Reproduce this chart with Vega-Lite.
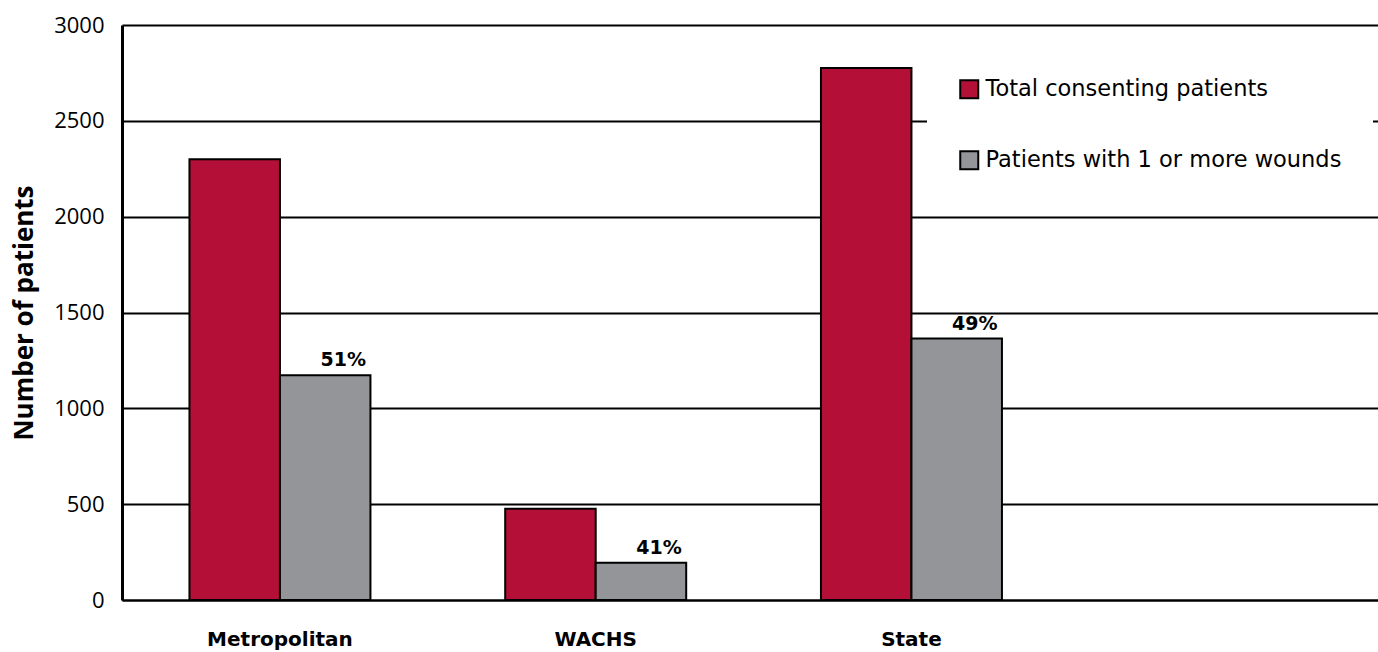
{
  "$schema": "https://vega.github.io/schema/vega-lite/v6.json",
  "width": 1256,
  "height": 575,
  "autosize": {"type": "none"},
  "padding": {"left": 122, "top": 25, "right": 0, "bottom": 52},
  "background": "white",
  "config": {"view": {"stroke": null}, "font": "Open Sans"},
  "data": {
    "values": [
      {"region": "Metropolitan", "series": "Total consenting patients", "count": 2300},
      {"region": "Metropolitan", "series": "Patients with 1 or more wounds", "count": 1173, "pct": "51%"},
      {"region": "WACHS", "series": "Total consenting patients", "count": 476},
      {"region": "WACHS", "series": "Patients with 1 or more wounds", "count": 195, "pct": "41%"},
      {"region": "State", "series": "Total consenting patients", "count": 2776},
      {"region": "State", "series": "Patients with 1 or more wounds", "count": 1364, "pct": "49%"}
    ]
  },
  "encoding": {
    "x": {
      "field": "region",
      "type": "nominal",
      "sort": null,
      "scale": {"domain": ["Metropolitan", "WACHS", "State", ""], "paddingInner": 0.4268, "paddingOuter": 0.2023, "align": 0.528},
      "axis": {
        "title": null,
        "labelAngle": 0,
        "ticks": false,
        "grid": false,
        "domainColor": "black",
        "domainWidth": 2,
        "labelFont": "DejaVu Sans",
        "labelFontWeight": "bold",
        "labelFontSize": 20,
        "labelColor": "black",
        "labelPadding": 29
      }
    },
    "xOffset": {
      "field": "series",
      "type": "nominal",
      "scale": {"domain": ["Total consenting patients", "Patients with 1 or more wounds"], "paddingInner": 0, "paddingOuter": 0}
    },
    "y": {
      "field": "count",
      "type": "quantitative",
      "scale": {"domain": [0, 3000], "nice": false},
      "axis": {
        "title": "Number of patients",
        "titleFont": "Open Sans",
        "titleFontWeight": "bold",
        "titleFontSize": 26,
        "titleColor": "black",
        "titlePadding": 16,
        "values": [0, 500, 1000, 1500, 2000, 2500, 3000],
        "format": "d",
        "ticks": false,
        "grid": true,
        "gridColor": "black",
        "gridWidth": 2,
        "gridOpacity": 1,
        "domainColor": "black",
        "domainWidth": 3,
        "labelFont": "Open Sans",
        "labelFontSize": 22,
        "labelColor": "black",
        "labelPadding": 18
      }
    }
  },
  "layer": [
    {
      "mark": {"type": "bar", "stroke": "black", "strokeWidth": 2},
      "encoding": {
        "color": {
          "field": "series",
          "type": "nominal",
          "scale": {"domain": ["Total consenting patients", "Patients with 1 or more wounds"], "range": ["#B40F37", "#939598"]},
          "legend": {
            "orient": "none",
            "legendX": 805,
            "legendY": 22,
            "fillColor": "white",
            "padding": 31,
            "title": null,
            "symbolType": "square",
            "symbolSize": 324,
            "symbolStrokeColor": "black",
            "symbolStrokeWidth": 2,
            "symbolOpacity": 1,
            "labelFont": "DejaVu Sans",
            "labelFontSize": 22.5,
            "labelColor": "black",
            "labelLimit": 420,
            "labelOffset": 5,
            "rowPadding": 44
          }
        }
      }
    },
    {
      "transform": [{"filter": "datum.pct != null"}],
      "mark": {"type": "text", "baseline": "bottom", "dy": -5, "dx": 18, "font": "DejaVu Sans", "fontWeight": "bold", "fontSize": 19, "color": "black"},
      "encoding": {"text": {"field": "pct"}}
    }
  ]
}
